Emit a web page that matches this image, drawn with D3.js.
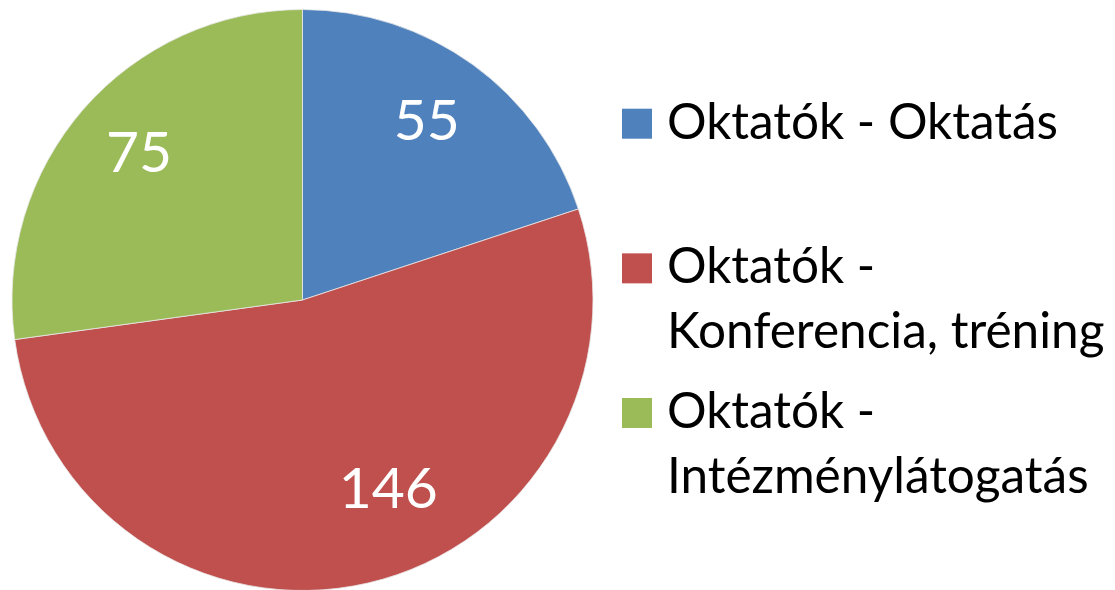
<!DOCTYPE html>
<html lang="hu">
<head>
<meta charset="utf-8">
<script src="https://d3js.org/d3.v7.min.js"></script>
<style>
    body { margin: 0; background: #fff; }
    text { font-family: Lato, "Open Sans", sans-serif; }
</style>
</head>
<body>
<script>
    // data
    const categories = ["Oktatók - Oktatás", "Oktatók - Konferencia, tréning", "Oktatók - Intézménylátogatás"];
    const values = [55, 146, 75];
    const legendLines = [
        ["Oktatók - Oktatás"],
        ["Oktatók -", "Konferencia, tréning"],
        ["Oktatók -", "Intézménylátogatás"]
    ];
    const colors = ["#4F81BD", "#C0504D", "#9BBB59"];

    var width = 1115;
    var height = 590;
    var cx = 302.5, cy = 300, radius = 290.5;

    var svg = d3.select("body")
                .append("svg")
                .attr("width", width)
                .attr("height", height);

    var color = d3.scaleOrdinal().domain(categories).range(colors);

    var pie = d3.pie().sort(null).value(function(d){ return d.value; });

    var arc = d3.arc().innerRadius(0).outerRadius(radius);
    var labelArc = d3.arc().innerRadius(radius * 0.76).outerRadius(radius * 0.76);

    var rows = categories.map(function(c, i){ return {name: c, value: values[i]}; });
    var arcs = pie(rows);

    var g = svg.append("g").attr("transform", "translate(" + cx + "," + cy + ")");

    g.selectAll("path")
        .data(arcs)
        .enter()
        .append("path")
        .attr("d", arc)
        .attr("fill", function(d){ return color(d.data.name); })
        .attr("stroke", "#e8e8e8")
        .attr("stroke-width", 0.8);

    // excel "best fit" pushes the labels a bit off their centroid
    var nudge = [[-5, -2], [36, -28], [3, -3]];

    g.selectAll("text.val")
        .data(arcs)
        .enter()
        .append("text")
        .attr("class", "val")
        .attr("transform", function(d, i){
            var c = labelArc.centroid(d);
            return "translate(" + (c[0] + nudge[i][0]) + "," + (c[1] + nudge[i][1]) + ")";
        })
        .attr("text-anchor", "middle")
        .attr("dy", "0.36em")
        .attr("fill", "#fff")
        .style("font-size", "57px")
        .text(function(d){ return d.value; });

    // legend
    var ly = d3.scaleLinear().domain([0, categories.length - 1]).range([138.7, 428]);
    var lineH = 65;

    var leg = svg.selectAll("g.leg")
        .data(categories)
        .enter()
        .append("g")
        .attr("class", "leg")
        .attr("transform", function(d, i){ return "translate(622," + ly(i) + ")"; });

    leg.append("rect")
        .attr("x", 0)
        .attr("y", -30)
        .attr("width", 30)
        .attr("height", 30)
        .attr("fill", function(d){ return color(d); });

    leg.each(function(d, i){
        var t = d3.select(this).append("text")
            .attr("x", 45)
            .attr("y", 0)
            .attr("fill", "#000")
            .style("font-size", "49.5px");
        legendLines[i].forEach(function(line, j){
            t.append("tspan").attr("x", 45).attr("y", j * lineH).text(line);
        });
    });
</script>
</body>
</html>
